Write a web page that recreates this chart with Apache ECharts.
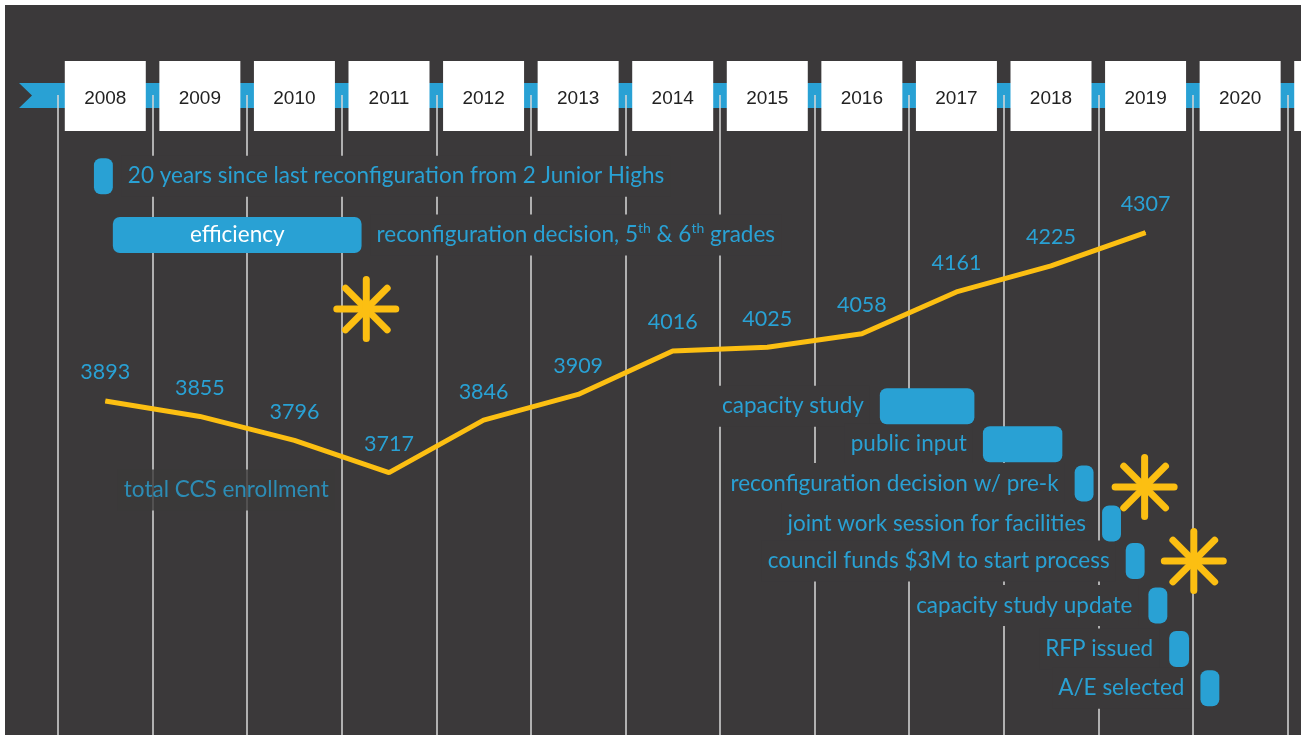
<!DOCTYPE html>
<html>
<head>
<meta charset="utf-8">
<script src="https://cdn.jsdelivr.net/npm/echarts@6/dist/echarts.min.js"></script>
<style>
  html, body { margin: 0; padding: 0; background: #fff; }
  #main { width: 1301px; height: 735px; }
</style>
</head>
<body>
<div id="main"></div>
<script>
// year boxes on the ribbon (last one is the cut-off box at the right edge)
var years = ['2008', '2009', '2010', '2011', '2012', '2013', '2014', '2015', '2016', '2017', '2018', '2019', '2020', ' '];

// total CCS enrollment
var enrollYears = [2008, 2009, 2010, 2011, 2012, 2013, 2014, 2015, 2016, 2017, 2018, 2019];
var enrollment = [3893, 3855, 3796, 3717, 3846, 3909, 4016, 4025, 4058, 4161, 4225, 4307];

// timeline events (start / end in fractional years, lane = row)
var taskLabels = [
    '20 years since last reconfiguration from 2 Junior Highs',
    'reconfiguration decision, 5th & 6th grades',
    'capacity study',
    'public input',
    'reconfiguration decision w/ pre-k',
    'joint work session for facilities',
    'council funds $3M to start process',
    'capacity study update',
    'RFP issued',
    'A/E selected'
];
var taskInner = ['', 'efficiency', '', '', '', '', '', '', '', ''];
var taskStart = [2007.88, 2008.08, 2016.19, 2017.28, 2018.25, 2018.54, 2018.79, 2019.03, 2019.25, 2019.58];
var taskEnd = [2008.08, 2010.71, 2017.19, 2018.12, 2018.45, 2018.74, 2018.99, 2019.23, 2019.46, 2019.78];
var taskLane = [2.03, 3.5, 7.78, 8.73, 9.71, 10.71, 11.65, 12.76, 13.85, 14.83];

// decision stars
var starYear = [2010.76, 2018.99, 2019.51];
var starLane = [5.35, 9.8, 11.65];

// free text note
var noteText = ['total CCS enrollment'];
var noteYear = [2009.28];
var noteLane = [9.875];

var BG = '#3b393a';
var BLUE = '#29a1d4';
var GOLD = '#fcbf12';
var FONT = 'Lato, "Open Sans", sans-serif';
var FS = 22.5;

var myChart = echarts.init(document.getElementById('main'));

function supText(t) {
    // 5th -> 5 + superscript th
    return t.replace(/(\d)th/g, '$1{s|th}');
}

myChart.setOption({
    backgroundColor: '#fff',
    animation: false,
    graphic: [
        { type: 'rect', z: -10, shape: { x: 5, y: 5, width: 1296, height: 730 }, style: { fill: BG } },
        { type: 'polygon', z: -5, shape: { points: [[19, 83], [1301, 83], [1301, 108], [19, 108], [32, 95.5]] }, style: { fill: BLUE } }
    ],
    grid: { left: 58, right: -81, top: 95, bottom: 0, outerBoundsMode: 'none' },
    xAxis: [{
        type: 'category',
        position: 'top',
        data: years,
        boundaryGap: true,
        axisLine: { show: false },
        axisTick: { show: false },
        splitLine: { show: true, lineStyle: { color: '#d9d9d9', width: 1.5 } },
        axisLabel: {
            interval: 0,
            margin: -36,
            backgroundColor: '#fff',
            width: 81,
            height: 70,
            lineHeight: 64,
            align: 'center',
            color: '#222',
            fontSize: 19,
            fontFamily: '"Liberation Sans Narrow", "Liberation Sans", Arial, sans-serif'
        }
    }, {
        type: 'value',
        min: 2007.5,
        max: 2021.5,
        show: false
    }],
    yAxis: [{
        type: 'value',
        min: 3072,
        max: 4645,
        show: false
    }, {
        type: 'value',
        inverse: true,
        min: 0,
        max: 16,
        show: false
    }],
    series: [{
        // enrollment line
        type: 'line',
        xAxisIndex: 1,
        yAxisIndex: 0,
        z: 3,
        data: enrollYears.map(function (y, i) { return [y, enrollment[i]]; }),
        symbol: 'circle',
        symbolSize: 1,
        itemStyle: { color: GOLD },
        lineStyle: { color: GOLD, width: 5 },
        label: {
            show: true,
            position: 'top',
            distance: 17,
            color: BLUE,
            fontSize: 21.5,
            fontFamily: FONT,
            formatter: function (p) { return p.value[1]; }
        }
    }, {
        // event bars + labels
        type: 'custom',
        xAxisIndex: 1,
        yAxisIndex: 1,
        z: 4,
        data: taskLabels.map(function (t, i) { return [taskStart[i], taskEnd[i], taskLane[i], i]; }),
        renderItem: function (params, api) {
            var i = api.value(3);
            var s = api.coord([api.value(0), api.value(2)]);
            var e = api.coord([api.value(1), api.value(2)]);
            var h = 36;
            var cy = s[1];
            var right = api.value(0) < 2015;
            var kids = [{
                type: 'rect',
                z2: 10,
                shape: { x: s[0], y: cy - h / 2, width: e[0] - s[0], height: h, r: 7 },
                style: { fill: BLUE }
            }, {
                type: 'text',
                z2: 5,
                style: {
                    text: supText(taskLabels[i]),
                    x: right ? e[0] + 9 : s[0] - 10,
                    y: cy,
                    align: right ? 'left' : 'right',
                    verticalAlign: 'middle',
                    fill: BLUE,
                    fontSize: FS,
                    fontFamily: FONT,
                    lineHeight: 27,
                    backgroundColor: BG,
                    padding: [7, 6],
                    rich: {
                        s: { fontSize: 14, fontFamily: FONT, fill: BLUE, verticalAlign: 'top', lineHeight: 14 }
                    }
                }
            }];
            if (taskInner[i]) {
                kids.push({
                    type: 'text',
                    z2: 12,
                    style: {
                        text: taskInner[i],
                        x: (s[0] + e[0]) / 2,
                        y: cy,
                        align: 'center',
                        verticalAlign: 'middle',
                        fill: '#fff',
                        fontSize: FS,
                        fontFamily: FONT
                    }
                });
            }
            return { type: 'group', children: kids };
        }
    }, {
        // gold asterisks
        type: 'custom',
        xAxisIndex: 1,
        yAxisIndex: 1,
        z: 5,
        data: starYear.map(function (y, i) { return [y, starLane[i]]; }),
        renderItem: function (params, api) {
            var c = api.coord([api.value(0), api.value(1)]);
            var r = 29.5;
            var kids = [];
            for (var k = 0; k < 4; k++) {
                var a = k * Math.PI / 4;
                kids.push({
                    type: 'line',
                    shape: { x1: c[0] - r * Math.cos(a), y1: c[1] - r * Math.sin(a), x2: c[0] + r * Math.cos(a), y2: c[1] + r * Math.sin(a) },
                    style: { stroke: GOLD, lineWidth: 7, lineCap: 'round' }
                });
            }
            return { type: 'group', children: kids };
        }
    }, {
        // note text
        type: 'scatter',
        xAxisIndex: 1,
        yAxisIndex: 1,
        z: 4,
        symbolSize: 0,
        data: noteText.map(function (t, i) { return { name: t, value: [noteYear[i], noteLane[i]] }; }),
        label: {
            show: true,
            position: 'inside',
            formatter: '{b}',
            color: BLUE,
            fontSize: FS,
            fontFamily: FONT,
            lineHeight: 27,
            backgroundColor: BG,
            padding: [7, 6]
        }
    }]
});
</script>
</body>
</html>
